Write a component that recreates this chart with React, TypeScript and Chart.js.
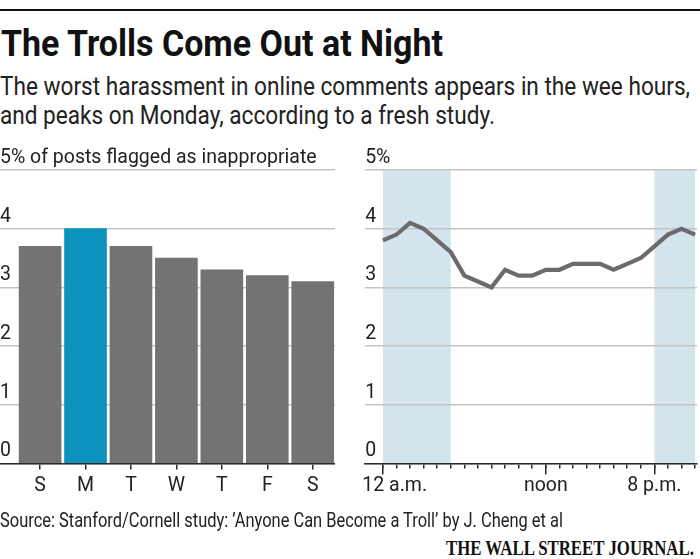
import React, { useEffect, useLayoutEffect, useRef } from "react";
import { Chart, registerables } from "chart.js";

Chart.register(...registerables);

// ---- data ----
const DAYS = ["S", "M", "T", "W", "T", "F", "S"];
const DAY_VALUES = [3.7, 4.0, 3.7, 3.5, 3.3, 3.2, 3.1];
const HIGHLIGHT_DAY = 1;

const HOURS = [0, 1, 2, 3, 4, 5, 6, 7, 8, 9, 10, 11, 12, 13, 14, 15, 16, 17, 18, 19, 20, 21, 22, 23];
const HOUR_VALUES = [3.8, 3.9, 4.1, 4.0, 3.8, 3.6, 3.2, 3.1, 3.0, 3.3, 3.2, 3.2, 3.3, 3.3, 3.4, 3.4, 3.4, 3.3, 3.4, 3.5, 3.7, 3.9, 4.0, 3.9];
const HOUR_LABEL_HOURS = [0, 12, 20];
const HOUR_LABEL_TEXT = ["12 a.m.", "noon", "8 p.m."];
const NIGHT_BANDS = [
  [0, 5],
  [20, 23],
];
const Y_TICKS = [0, 1, 2, 3, 4, 5];

const TITLE = "The Trolls Come Out at Night";
const SUBTITLE = [
  "The worst harassment in online comments appears in the wee hours,",
  "and peaks on Monday, according to a fresh study.",
];
const SOURCE = "Source: Stanford/Cornell study: ’Anyone Can Become a Troll’ by J. Cheng et al";
const LOGO = "THE WALL STREET JOURNAL.";

// ---- styles ----
const FONT = "'Roboto', 'Liberation Sans', sans-serif";
const GRAY = "#737373";
const BLUE = "#0b93be";
const LINE = "#6b6b6b";
const BAND = "#d4e4ed";
const GRID = "#c4c4c4";
const AXIS = "#2a2a2a";
const TEXT = "#222222";
const LABEL_FONT = { family: FONT, size: 19.5 };

const fixedWidth = (w: number) => (s: any) => {
  s.width = w;
};
const fixedHeight = (h: number) => (s: any) => {
  s.height = h;
};
const setTicks = (vals: number[]) => (s: any) => {
  s.ticks = vals.map((v) => ({ value: v }));
};

function yAxis(topLabel: string) {
  return {
    min: 0,
    max: 5,
    afterBuildTicks: setTicks(Y_TICKS),
    afterFit: fixedWidth(0),
    grid: { color: GRID, lineWidth: 1.5, drawTicks: false },
    border: { display: false },
    ticks: {
      mirror: true,
      labelOffset: -12,
      padding: 0,
      color: TEXT,
      font: LABEL_FONT,
      callback: (v: number) => (v === 5 ? topLabel : String(v)),
    },
  };
}

const nightBands = {
  id: "nightBands",
  beforeDraw(chart: any) {
    const { ctx, chartArea, scales } = chart;
    const x = scales.x;
    ctx.save();
    ctx.fillStyle = BAND;
    for (const [a, b] of NIGHT_BANDS) {
      const x0 = x.getPixelForValue(a);
      const x1 = x.getPixelForValue(b);
      ctx.fillRect(x0, chartArea.top, x1 - x0, chartArea.bottom - chartArea.top);
    }
    ctx.restore();
  },
};

function DayChart() {
  const ref = useRef<HTMLCanvasElement>(null);
  useEffect(() => {
    const chart = new Chart(ref.current!, {
      type: "bar",
      data: {
        datasets: [
          {
            data: DAY_VALUES.map((v, i) => ({ x: i, y: v })),
            backgroundColor: DAY_VALUES.map((_, i) => (i === HIGHLIGHT_DAY ? BLUE : GRAY)),
            barThickness: 42,
            borderWidth: 0,
          },
        ],
      },
      options: {
        animation: false,
        responsive: false,
        maintainAspectRatio: false,
        layout: { padding: { top: 30, left: 0, right: 0, bottom: 0 } },
        plugins: { legend: { display: false }, tooltip: { enabled: false } },
        scales: {
          x: {
            type: "linear",
            offset: false,
            min: -0.882,
            max: 6.49,
            afterBuildTicks: setTicks(DAYS.map((_, i) => i)),
            afterFit: fixedHeight(46.5),
            grid: { offset: false, drawOnChartArea: false, tickLength: 6, color: AXIS, lineWidth: 1.5 },
            border: { display: true, color: AXIS, width: 1.5 },
            ticks: {
              padding: 5,
              color: TEXT,
              font: LABEL_FONT,
              callback: (v: number) => DAYS[v],
            },
          },
          y: yAxis("5% of posts flagged as inappropriate"),
        },
      } as any,
    });
    return () => chart.destroy();
  }, []);
  return (
    <canvas
      ref={ref}
      width={335}
      height={370}
      style={{ position: "absolute", left: 0, top: 140, width: 335, height: 370 }}
    />
  );
}

function HourChart() {
  const ref = useRef<HTMLCanvasElement>(null);
  useEffect(() => {
    const min = -1.31;
    const max = 23.14;
    const chart = new Chart(ref.current!, {
      type: "line",
      data: {
        datasets: [
          {
            data: HOURS.map((h, i) => ({ x: h, y: HOUR_VALUES[i] })),
            borderColor: LINE,
            borderWidth: 4.2,
            pointRadius: 0,
            tension: 0,
            fill: false,
            xAxisID: "x",
          },
        ],
      },
      options: {
        animation: false,
        responsive: false,
        maintainAspectRatio: false,
        layout: { padding: { top: 30, left: 12, right: 3, bottom: 0 } },
        plugins: { legend: { display: false }, tooltip: { enabled: false } },
        scales: {
          x: {
            type: "linear",
            position: "bottom",
            weight: 0,
            min,
            max,
            afterBuildTicks: setTicks(HOURS),
            afterFit: fixedHeight(0),
            grid: { drawOnChartArea: false, tickLength: 5, color: AXIS, lineWidth: 1.5 },
            border: { display: true, color: AXIS, width: 1.5 },
            ticks: { display: false },
          },
          xMajor: {
            type: "linear",
            position: "bottom",
            weight: 1,
            min,
            max,
            afterBuildTicks: setTicks(HOUR_LABEL_HOURS),
            afterFit: fixedHeight(0),
            grid: { drawOnChartArea: false, tickLength: 11, color: AXIS, lineWidth: 1.5 },
            border: { display: false },
            ticks: { display: false },
          },
          xLabel: {
            type: "linear",
            position: "bottom",
            weight: 2,
            min,
            max,
            afterBuildTicks: (s: any) => {
              s.ticks = HOUR_LABEL_HOURS.map((h, i) => ({ value: h + (i === 0 ? 0.87 : 0) }));
            },
            afterFit: fixedHeight(46.5),
            grid: { display: false, drawTicks: false },
            border: { display: false },
            ticks: {
              padding: 11,
              color: TEXT,
              font: LABEL_FONT,
              callback: (_v: number, i: number) => HOUR_LABEL_TEXT[i],
            },
          },
          y: yAxis("5%"),
        },
      } as any,
      plugins: [nightBands],
    });
    return () => chart.destroy();
  }, []);
  return (
    <canvas
      ref={ref}
      width={350}
      height={370}
      style={{ position: "absolute", left: 350, top: 140, width: 350, height: 370 }}
    />
  );
}

// Text block squeezed horizontally to the width it has in the reference.
function FitText({
  width,
  align = "left",
  style,
  children,
}: {
  width: number;
  align?: "left" | "right";
  style: React.CSSProperties;
  children: React.ReactNode;
}) {
  const ref = useRef<HTMLDivElement>(null);
  useLayoutEffect(() => {
    const el = ref.current!;
    const fit = () => {
      el.style.transform = "none";
      const natural = el.getBoundingClientRect().width;
      if (natural > 0) el.style.transform = `scaleX(${width / natural})`;
    };
    fit();
    if ((document as any).fonts?.ready) (document as any).fonts.ready.then(fit);
  }, [width]);
  return (
    <div
      ref={ref}
      style={{
        position: "absolute",
        margin: 0,
        whiteSpace: "nowrap",
        display: "inline-block",
        transformOrigin: align === "left" ? "left center" : "right center",
        ...style,
      }}
    >
      {children}
    </div>
  );
}

export default function App() {
  return (
    <div
      style={{
        position: "fixed",
        left: 0,
        top: 0,
        width: 700,
        height: 559,
        background: "#ffffff",
        overflow: "hidden",
        fontFamily: FONT,
        color: TEXT,
      }}
    >
      <div style={{ position: "absolute", left: 0, top: 9, width: 700, height: 2, background: "#111" }} />
      <FitText
        width={442}
        style={{ left: 1, top: 26, fontSize: 36.5, lineHeight: "36.5px", fontWeight: 700, color: "#111" }}
      >
        {TITLE}
      </FitText>
      <FitText width={690} style={{ left: 0, top: 72, fontSize: 25, lineHeight: "29px", color: "#222" }}>
        {SUBTITLE[0]}
        <br />
        {SUBTITLE[1]}
      </FitText>
      <DayChart />
      <HourChart />
      <FitText width={563} style={{ left: 0, top: 511, fontSize: 19.5, lineHeight: "19.5px", color: "#222" }}>
        {SOURCE}
      </FitText>
      <FitText
        width={248}
        align="right"
        style={{
          right: 6,
          top: 538.3,
          fontSize: 20,
          lineHeight: "20px",
          fontWeight: 700,
          fontFamily: "'Liberation Serif', 'DejaVu Serif', serif",
          color: "#111",
        }}
      >
        {LOGO}
      </FitText>
    </div>
  );
}
